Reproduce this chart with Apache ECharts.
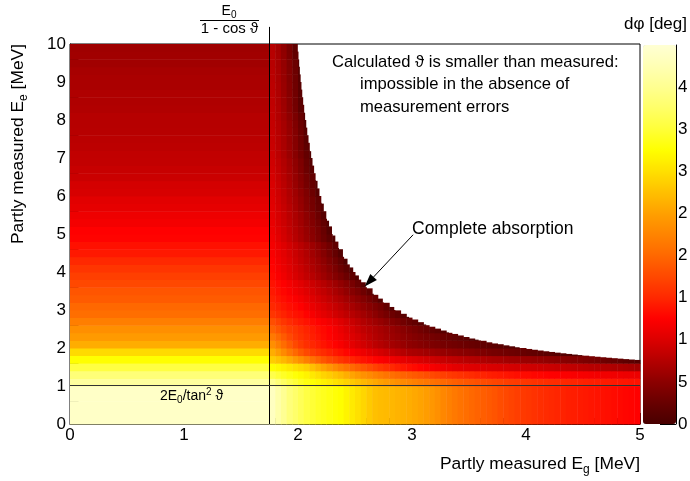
<!DOCTYPE html>
<html>
<head>
<meta charset="utf-8">
<script src="https://cdn.jsdelivr.net/npm/echarts@6/dist/echarts.min.js"></script>
<style>
  html, body { margin: 0; background: #fff; }
  #main { width: 690px; height: 481px; }
</style>
</head>
<body>
<div id="main"></div>
<script>
// colour scale, d-phi [deg]
var cbMax = 4.5;
var cbTickValues = [0, 0.5, 1, 1.5, 2, 2.5, 3, 3.5, 4];
var cbTickLabels = ['0', '5', '1', '1', '2', '2', '3', '3', '4'];
var palette = ['#480000', '#680000', '#8c0000', '#b40000', '#dc0000', '#ff0000', '#ff2800',
  '#ff4800', '#ff6800', '#ff8400', '#ffa000', '#ffc000', '#ffe000', '#ffff00', '#ffff38',
  '#ffff68', '#ffff90', '#ffffb4', '#ffffd4'];

// the two kinematic lines [MeV]
var lineEg = 1.746;   // E0 / (1 - cos theta)
var lineEe = 1.022;   // 2 E0 / tan^2 theta
var lineTop = 10.45;  // vertical line runs a bit above the frame
var arrowFrom = [3.01, 4.98];
var arrowTo = [2.585, 3.62];

// binning [MeV]
var rowStep = 0.2;
var colStart = 1.75;
var colStep = 0.05;
var midStart = 1.0;

// left of E0/(1-cos): each row flat in Eg, rows of 0.2 MeV from Ee = 0
var leftRows = [4.4, 4.4, 4.4, 4.4, 4.4, 4.1, 3.85, 3.55, 3.25, 2.95,
  2.6, 2.45, 2.35, 2.2, 2.05, 2.0, 1.9, 1.85, 1.75, 1.68,
  1.6, 1.5, 1.4, 1.35, 1.27, 1.25, 1.17, 1.13, 1.07, 1.04,
  0.97, 0.95, 0.89, 0.87, 0.84, 0.83, 0.8, 0.79, 0.77, 0.76,
  0.76, 0.73, 0.72, 0.72, 0.69, 0.69, 0.67, 0.63, 0.63, 0.62];

// below 2E0/tan^2 and right of E0/(1-cos): columns of 0.05 MeV from Eg = 1.75
var bottomCols = [4.35, 4.18, 4.02, 3.86, 3.76, 3.66, 3.56, 3.49, 3.43, 3.38,
  3.33, 3.28, 3.24, 3.16, 3.08, 3.0, 2.92, 2.83, 2.75, 2.72,
  2.7, 2.68, 2.65, 2.63, 2.6, 2.56, 2.52, 2.47, 2.42, 2.36,
  2.28, 2.21, 2.15, 2.1, 2.05, 2.0, 1.96, 1.92, 1.88, 1.84,
  1.79, 1.75, 1.71, 1.67, 1.63, 1.61, 1.58, 1.55, 1.52, 1.5,
  1.48, 1.46, 1.44, 1.43, 1.41, 1.4, 1.38, 1.37, 1.35, 1.34,
  1.32, 1.3, 1.28, 1.27, 1.25];

// absorption edge, read off the white region
// Eg where white begins, at the lower edge of each 0.2 MeV row from Ee = 1
var edgeEgByRow = [5, 5, 5, 5, 4.49, 3.94, 3.58, 3.32, 3.12, 2.97,
  2.84, 2.74, 2.66, 2.59, 2.53, 2.48, 2.43, 2.39, 2.355, 2.323,
  2.294, 2.268, 2.244, 2.222, 2.202, 2.184, 2.167, 2.151, 2.137, 2.123,
  2.111, 2.099, 2.088, 2.077, 2.068, 2.058, 2.05, 2.041, 2.033, 2.026,
  2.019, 2.012, 2.006, 2.0, 1.994];
// Ee where white begins, at the left edge of each 0.05 MeV column from Eg = 1.75
var edgeEeByCol = [10, 10, 10, 10, 10, 9.59, 8.19, 7.18, 6.42, 5.82,
  5.35, 4.96, 4.63, 4.35, 4.12, 3.91, 3.73, 3.57, 3.43, 3.3,
  3.19, 3.08, 2.99, 2.9, 2.82, 2.75, 2.68, 2.62, 2.56, 2.51,
  2.46, 2.41, 2.37, 2.33, 2.29, 2.25, 2.22, 2.19, 2.15, 2.12,
  2.1, 2.07, 2.045, 2.02, 2.0, 1.975, 1.954, 1.934, 1.914, 1.896,
  1.878, 1.861, 1.844, 1.828, 1.813, 1.798, 1.784, 1.77, 1.757, 1.744,
  1.732, 1.72, 1.708, 1.697, 1.686];

// above 2E0/tan^2, right of E0/(1-cos), up to the absorption edge
// rows of 0.2 MeV from Ee = 1, columns of 0.05 MeV from Eg = 1.75
var midRows = [
  [4.0, 3.85, 3.72, 3.6, 3.5, 3.4, 3.32, 3.26, 3.2, 3.14, 3.08, 3.02, 2.96, 2.89, 2.82, 2.75,
   2.68, 2.62, 2.56, 2.5, 2.45, 2.4, 2.35, 2.3, 2.26, 2.21, 2.17, 2.13, 2.09, 2.05, 2.01, 1.97,
   1.93, 1.9, 1.87, 1.84, 1.81, 1.78, 1.76, 1.73, 1.71, 1.68, 1.66, 1.64, 1.62, 1.6, 1.58, 1.56,
   1.55, 1.53, 1.52, 1.5, 1.49, 1.48, 1.46, 1.45, 1.44, 1.43, 1.42, 1.41, 1.4, 1.39, 1.38, 1.37, 1.36],
  [3.6, 3.5, 3.42, 3.35, 3.28, 3.22, 3.15, 3.07, 2.99, 2.91, 2.84, 2.77, 2.7, 2.61, 2.53, 2.45,
   2.37, 2.3, 2.23, 2.17, 2.11, 2.06, 2.01, 1.96, 1.92, 1.88, 1.84, 1.8, 1.76, 1.72, 1.68, 1.64,
   1.61, 1.58, 1.55, 1.52, 1.49, 1.47, 1.44, 1.42, 1.4, 1.38, 1.36, 1.34, 1.32, 1.31, 1.29, 1.28,
   1.26, 1.25, 1.24, 1.23, 1.22, 1.21, 1.2, 1.19, 1.18, 1.17, 1.16, 1.16, 1.15, 1.14, 1.13, 1.13, 1.12],
  [3.25, 3.2, 3.14, 3.07, 3.0, 2.94, 2.87, 2.75, 2.63, 2.52, 2.41, 2.3, 2.2, 2.11, 2.02, 1.94,
   1.86, 1.78, 1.7, 1.63, 1.57, 1.51, 1.45, 1.4, 1.35, 1.31, 1.27, 1.23, 1.19, 1.16, 1.13, 1.1,
   1.06, 1.04, 1.03, 1.02, 1.01, 1.0, 0.99, 0.98, 0.97, 0.96, 0.95, 0.94, 0.93, 0.92, 0.91, 0.9,
   0.89, 0.88, 0.86, 0.85, 0.83, 0.82, 0.8, 0.79, 0.77, 0.76, 0.74, 0.73, 0.71, 0.7, 0.68, 0.66, 0.64],
  [2.85, 2.77, 2.68, 2.57, 2.45, 2.33, 2.2, 2.08, 1.96, 1.85, 1.76, 1.68, 1.6, 1.53, 1.47, 1.41,
   1.36, 1.32, 1.27, 1.23, 1.19, 1.15, 1.11, 1.07, 1.03, 1.0, 0.97, 0.94, 0.91, 0.88, 0.86, 0.83,
   0.81, 0.79, 0.77, 0.75, 0.73, 0.71, 0.69, 0.67, 0.66, 0.64, 0.62, 0.61, 0.59, 0.58, 0.56, 0.55,
   0.53, 0.51, 0.49, 0.47, 0.45, 0.43, 0.41, 0.38, 0.36, 0.33, 0.3, 0.27, 0.24, 0.21, 0.17, 0.14, 0.1],
  [2.6, 2.46, 2.3, 2.14, 2.0, 1.87, 1.75, 1.67, 1.59, 1.52, 1.46, 1.4, 1.35, 1.29, 1.23, 1.17,
   1.12, 1.06, 1.0, 0.95, 0.9, 0.85, 0.8, 0.75, 0.7, 0.68, 0.66, 0.63, 0.61, 0.58, 0.56, 0.54,
   0.51, 0.49, 0.47, 0.45, 0.42, 0.4, 0.37, 0.35, 0.33, 0.31, 0.29, 0.27, 0.25, 0.22, 0.2, 0.18,
   0.16, 0.14, 0.12, 0.1, 0.09, 0.07, 0.06],
  [2.35, 2.2, 2.04, 1.89, 1.75, 1.64, 1.55, 1.49, 1.43, 1.37, 1.31, 1.26, 1.2, 1.13, 1.06, 0.99,
   0.93, 0.87, 0.8, 0.75, 0.7, 0.65, 0.61, 0.57, 0.52, 0.49, 0.46, 0.43, 0.4, 0.38, 0.35, 0.33,
   0.31, 0.29, 0.27, 0.25, 0.23, 0.2, 0.18, 0.16, 0.13, 0.11, 0.09, 0.06],
  [2.15, 2.02, 1.89, 1.76, 1.65, 1.57, 1.5, 1.44, 1.38, 1.32, 1.26, 1.2, 1.15, 1.08, 1.01, 0.95,
   0.88, 0.81, 0.75, 0.7, 0.65, 0.6, 0.56, 0.52, 0.48, 0.44, 0.4, 0.37, 0.34, 0.31, 0.28, 0.25,
   0.21, 0.18, 0.14, 0.1, 0.06],
  [1.95, 1.85, 1.75, 1.66, 1.6, 1.53, 1.47, 1.41, 1.35, 1.3, 1.25, 1.18, 1.11, 1.03, 0.96, 0.89,
   0.82, 0.77, 0.72, 0.67, 0.62, 0.57, 0.52, 0.47, 0.42, 0.37, 0.32, 0.27, 0.22, 0.17, 0.12, 0.07],
  [1.8, 1.7, 1.6, 1.52, 1.46, 1.41, 1.36, 1.31, 1.26, 1.21, 1.16, 1.09, 1.02, 0.95, 0.88, 0.81,
   0.74, 0.68, 0.62, 0.56, 0.5, 0.44, 0.38, 0.32, 0.26, 0.2, 0.14, 0.07],
  [1.6, 1.53, 1.46, 1.4, 1.36, 1.33, 1.26, 1.19, 1.12, 1.06, 1.0, 0.94, 0.88, 0.82, 0.76, 0.7,
   0.64, 0.57, 0.5, 0.42, 0.35, 0.28, 0.21, 0.14, 0.07],
  [1.5, 1.45, 1.39, 1.34, 1.3, 1.25, 1.18, 1.11, 1.04, 0.98, 0.92, 0.86, 0.8, 0.73, 0.67, 0.6,
   0.54, 0.47, 0.4, 0.33, 0.22, 0.1],
  [1.45, 1.39, 1.33, 1.28, 1.23, 1.17, 1.1, 1.03, 0.96, 0.9, 0.84, 0.77, 0.71, 0.64, 0.57, 0.5,
   0.43, 0.35, 0.25, 0.12],
  [1.4, 1.34, 1.28, 1.22, 1.16, 1.1, 1.03, 0.96, 0.89, 0.83, 0.76, 0.69, 0.62, 0.54, 0.46, 0.38, 0.29, 0.19, 0.08],
  [1.36, 1.3, 1.24, 1.18, 1.11, 1.04, 0.97, 0.9, 0.83, 0.76, 0.69, 0.62, 0.54, 0.46, 0.36, 0.25, 0.11],
  [1.3, 1.22, 1.14, 1.06, 0.98, 0.91, 0.84, 0.77, 0.69, 0.61, 0.53, 0.45, 0.37, 0.28, 0.18, 0.08],
  [1.27, 1.19, 1.11, 1.03, 0.95, 0.88, 0.8, 0.72, 0.64, 0.56, 0.47, 0.38, 0.28, 0.18, 0.08],
  [1.24, 1.16, 1.08, 1.0, 0.92, 0.84, 0.76, 0.68, 0.6, 0.51, 0.41, 0.31, 0.2, 0.08],
  [1.21, 1.13, 1.05, 0.97, 0.89, 0.81, 0.73, 0.64, 0.55, 0.45, 0.34, 0.22, 0.09],
  [1.18, 1.1, 1.02, 0.94, 0.86, 0.78, 0.7, 0.61, 0.52, 0.42, 0.31, 0.19, 0.07],
  [1.15, 1.05, 0.95, 0.86, 0.77, 0.68, 0.59, 0.49, 0.39, 0.28, 0.17, 0.07],
  [1.12, 1.02, 0.93, 0.84, 0.75, 0.66, 0.57, 0.47, 0.37, 0.25, 0.1],
  [1.09, 0.99, 0.9, 0.81, 0.72, 0.63, 0.53, 0.43, 0.32, 0.2, 0.08],
  [1.06, 0.97, 0.88, 0.79, 0.7, 0.61, 0.51, 0.4, 0.28, 0.12],
  [1.04, 0.95, 0.86, 0.77, 0.67, 0.57, 0.46, 0.35, 0.23, 0.1],
  [1.02, 0.93, 0.84, 0.74, 0.65, 0.55, 0.44, 0.33, 0.2, 0.07],
  [1.0, 0.91, 0.82, 0.72, 0.62, 0.52, 0.41, 0.28, 0.12],
  [0.98, 0.89, 0.79, 0.69, 0.58, 0.47, 0.35, 0.23, 0.1],
  [0.96, 0.87, 0.77, 0.67, 0.56, 0.45, 0.33, 0.21, 0.07],
  [0.94, 0.85, 0.75, 0.65, 0.54, 0.42, 0.28, 0.13],
  [0.92, 0.83, 0.73, 0.63, 0.52, 0.4, 0.26, 0.11],
  [0.9, 0.8, 0.7, 0.59, 0.47, 0.35, 0.22, 0.08],
  [0.88, 0.79, 0.69, 0.58, 0.46, 0.32, 0.17],
  [0.87, 0.78, 0.68, 0.57, 0.45, 0.31, 0.15],
  [0.86, 0.77, 0.67, 0.56, 0.44, 0.29, 0.13],
  [0.85, 0.76, 0.66, 0.55, 0.42, 0.27, 0.11],
  [0.84, 0.74, 0.63, 0.51, 0.38, 0.24, 0.08],
  [0.83, 0.73, 0.61, 0.48, 0.33, 0.16],
  [0.82, 0.72, 0.6, 0.47, 0.32, 0.15],
  [0.81, 0.71, 0.59, 0.46, 0.31, 0.14],
  [0.8, 0.7, 0.58, 0.45, 0.3, 0.13],
  [0.79, 0.69, 0.57, 0.44, 0.29, 0.12],
  [0.78, 0.68, 0.56, 0.43, 0.28, 0.11],
  [0.77, 0.67, 0.55, 0.42, 0.27, 0.1],
  [0.77, 0.66, 0.53, 0.38, 0.2],
  [0.76, 0.65, 0.52, 0.37, 0.19]
];

// cells as [eg0, eg1, ee0, ee1, value]
var cells = [];
leftRows.forEach(function (v, i) {
  cells.push([0, colStart, i * rowStep, (i + 1) * rowStep, v]);
});
bottomCols.forEach(function (v, j) {
  cells.push([colStart + j * colStep, colStart + (j + 1) * colStep, 0, midStart, v]);
});
midRows.forEach(function (row, i) {
  row.forEach(function (v, j) {
    var x0 = colStart + j * colStep;
    var y0 = midStart + i * rowStep;
    // cut the bin at the absorption edge
    var x1 = Math.min(x0 + colStep, edgeEgByRow[i]);
    var y1 = Math.min(y0 + rowStep, edgeEeByCol[j]);
    if (x1 > x0 && y1 > y0) cells.push([x0, x1, y0, y1, v]);
  });
});

var guides = [
  [lineEg, 0, lineEg, lineTop, 0],
  [0, lineEe, 5, lineEe, 0],
  [arrowFrom[0], arrowFrom[1], arrowTo[0], arrowTo[1], 1]
];

function renderCell(params, api) {
  var a = api.coord([api.value(0), api.value(3)]);
  var b = api.coord([api.value(1), api.value(2)]);
  return {
    type: 'rect',
    shape: { x: a[0], y: a[1], width: b[0] - a[0] + 0.5, height: b[1] - a[1] + 0.5 },
    style: { fill: api.visual('color') }
  };
}

function renderGuide(params, api) {
  var a = api.coord([api.value(0), api.value(1)]);
  var b = api.coord([api.value(2), api.value(3)]);
  if (api.value(4) === 0) {
    // snap to pixels so the guide lines stay thin
    var vertical = api.value(0) === api.value(2);
    if (vertical) { a[0] = b[0] = Math.round(a[0]) + 0.5; }
    else { a[1] = b[1] = Math.round(a[1]) + 0.5; }
    return {
      type: 'line',
      shape: { x1: a[0], y1: a[1], x2: b[0], y2: b[1] },
      style: { stroke: vertical ? '#000' : '#333', lineWidth: 1 }
    };
  }
  var ang = Math.atan2(b[1] - a[1], b[0] - a[0]);
  var len = 13, half = 4.5;
  var bx = b[0] - len * Math.cos(ang), by = b[1] - len * Math.sin(ang);
  return {
    type: 'group',
    children: [
      { type: 'line', shape: { x1: a[0], y1: a[1], x2: bx, y2: by }, style: { stroke: '#000', lineWidth: 1 } },
      { type: 'polygon',
        shape: { points: [[b[0], b[1]],
          [bx + half * Math.sin(ang), by - half * Math.cos(ang)],
          [bx - half * Math.sin(ang), by + half * Math.cos(ang)]] },
        style: { fill: '#000' } }
    ]
  };
}

var font = "'Liberation Sans', Arial, sans-serif";
var sub = { fontSize: 12, fontFamily: font, padding: [11, 0, 0, 0] };

var myChart = echarts.init(document.getElementById('main'));
myChart.setOption({
  animation: false,
  backgroundColor: '#fff',
  grid: [
    { left: 70, top: 44, width: 570, height: 380, outerBoundsMode: 'none', containLabel: false,
      show: true, borderColor: '#000', borderWidth: 1, backgroundColor: '#fff' },
    { left: 643, top: 45, width: 33, height: 379, outerBoundsMode: 'none', containLabel: false, show: false }
  ],
  xAxis: [{
    type: 'value', min: 0, max: 5, interval: 1,
    axisLine: { onZero: false, lineStyle: { color: '#000', width: 1 } },
    axisTick: { inside: true, length: 11, lineStyle: { color: '#000' } },
    minorTick: { show: true, splitNumber: 5, length: 6, lineStyle: { color: '#000' } },
    axisLabel: { color: '#000', fontSize: 17, fontFamily: font, margin: 3 },
    splitLine: { show: false }
  }, {
    gridIndex: 1, type: 'value', show: false, min: 0, max: 1
  }],
  yAxis: [{
    type: 'value', min: 0, max: 10, interval: 1,
    axisLine: { onZero: false, lineStyle: { color: '#000', width: 1 } },
    axisTick: { inside: true, length: 17, lineStyle: { color: '#000' } },
    minorTick: { show: true, splitNumber: 5, length: 8.5, lineStyle: { color: '#000' } },
    axisLabel: { color: '#000', fontSize: 17, fontFamily: font, margin: 4 },
    splitLine: { show: false }
  }, {
    gridIndex: 1, type: 'value', min: 0, max: cbMax, position: 'right',
    axisLine: { show: true, onZero: false, lineStyle: { color: '#000', width: 1 } },
    axisTick: { show: true, inside: true, length: 16, customValues: cbTickValues, lineStyle: { color: '#000' } },
    axisLabel: {
      color: '#000', fontSize: 17, fontFamily: font, margin: 2, customValues: cbTickValues,
      formatter: function (v) { return cbTickLabels[Math.round(v / 0.5)]; }
    },
    splitLine: { show: false }
  }],
  visualMap: {
    type: 'continuous', min: 0, max: cbMax, dimension: 4, seriesIndex: 0,
    calculable: false, hoverLink: false, realtime: false,
    orient: 'vertical', left: 643, top: 45, itemWidth: 33, itemHeight: 379, padding: 0,
    inRange: { color: palette }
  },
  series: [{
    type: 'custom', name: 'dphi', silent: true,
    renderItem: renderCell,
    encode: { x: [0, 1], y: [2, 3] },
    data: cells
  }, {
    type: 'custom', name: 'guides', silent: true, z: 5,
    renderItem: renderGuide,
    encode: { x: [0, 2], y: [1, 3] },
    data: guides
  }],
  graphic: [
    { type: 'text', x: 640, y: 464, z: 10,
      style: { text: 'Partly measured E{s|g} [MeV]', align: 'right', verticalAlign: 'middle',
        fill: '#000', fontSize: 17.4, fontFamily: font, rich: { s: sub } } },
    { type: 'text', x: 18, y: 44, rotation: Math.PI / 2, z: 10,
      style: { text: 'Partly measured E{s|e} [MeV]', align: 'right', verticalAlign: 'middle',
        fill: '#000', fontSize: 17.4, fontFamily: font, rich: { s: sub } } },
    { type: 'text', x: 687, y: 24, z: 10,
      style: { text: 'dφ [deg]', align: 'right', verticalAlign: 'middle', fill: '#000', fontSize: 17, fontFamily: font } },
    { type: 'text', x: 229, y: 11, z: 10,
      style: { text: 'E{s|0}', align: 'center', verticalAlign: 'middle', fill: '#000', fontSize: 14, fontFamily: font,
        rich: { s: { fontSize: 10, fontFamily: font, padding: [8, 0, 0, 0] } } } },
    { type: 'line', z: 10, shape: { x1: 200, y1: 20.5, x2: 259, y2: 20.5 }, style: { stroke: '#000', lineWidth: 1 } },
    { type: 'text', x: 229.5, y: 29, z: 10,
      style: { text: '1 - cos ϑ', align: 'center', verticalAlign: 'middle', fill: '#000', fontSize: 15, fontFamily: font } },
    { type: 'text', x: 160, y: 396, z: 10,
      style: { text: '2E{s|0}/tan{p|2} ϑ', align: 'left', verticalAlign: 'middle', fill: '#000', fontSize: 14, fontFamily: font,
        rich: { s: { fontSize: 10, fontFamily: font, padding: [8, 0, 0, 0] }, p: { fontSize: 10, fontFamily: font, padding: [0, 0, 8, 0] } } } },
    { type: 'text', x: 332, y: 62, z: 10,
      style: { text: 'Calculated ϑ is smaller than measured:', align: 'left', verticalAlign: 'middle', fill: '#000', fontSize: 16.6, fontFamily: font } },
    { type: 'text', x: 360, y: 84, z: 10,
      style: { text: 'impossible in the absence of', align: 'left', verticalAlign: 'middle', fill: '#000', fontSize: 16.6, fontFamily: font } },
    { type: 'text', x: 360, y: 107, z: 10,
      style: { text: 'measurement errors', align: 'left', verticalAlign: 'middle', fill: '#000', fontSize: 16.6, fontFamily: font } },
    { type: 'text', x: 412, y: 229, z: 10,
      style: { text: 'Complete absorption', align: 'left', verticalAlign: 'middle', fill: '#000', fontSize: 17.5, fontFamily: font } }
  ]
});
</script>
</body>
</html>
